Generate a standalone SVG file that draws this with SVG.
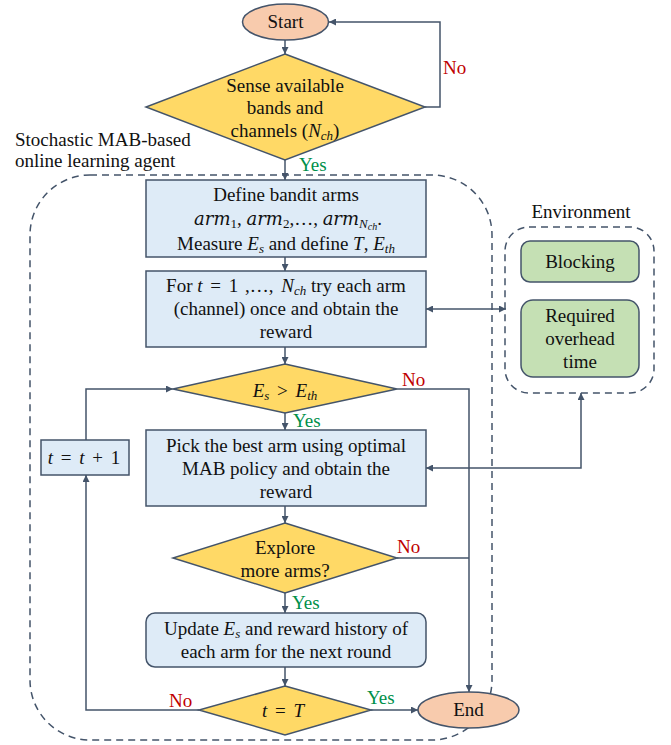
<svg xmlns="http://www.w3.org/2000/svg" width="671" height="745" viewBox="0 0 671 745" font-family="'Liberation Serif', 'Times New Roman', Times, serif">
<style>
text{font-family:'Liberation Serif','Times New Roman',Times,serif;font-size:19px;fill:#111;text-anchor:middle}
.m{font-style:italic}
.dm{font-family:'DejaVu Serif',serif;font-style:italic;font-size:18px}
.s{font-size:13px}
.no{fill:#C00000;text-anchor:start}
.yes{fill:#00904A;text-anchor:start}
.lbl{text-anchor:start}
.term{fill:#F8CBAD;stroke:#44546A;stroke-width:1.5}
.dec{fill:#FFD966;stroke:#44546A;stroke-width:1.5}
.proc{fill:#DEEBF7;stroke:#44546A;stroke-width:1.5}
.env{fill:#C5E0B4;stroke:#44546A;stroke-width:1.5}
.dash{fill:none;stroke:#44546A;stroke-width:1.5;stroke-dasharray:7 5}
.c{fill:none;stroke:#44546A;stroke-width:1.5}
</style>
<defs>
<marker id="ah" viewBox="0 0 10 10" refX="10" refY="5" markerWidth="7" markerHeight="7" markerUnits="userSpaceOnUse" orient="auto-start-reverse">
<path d="M0,0 L10,5 L0,10 z" fill="#44546A"/>
</marker>
</defs>

<rect class="dash" x="30" y="175" width="462" height="565" rx="60"/>
<text class="lbl" x="15" y="146">Stochastic MAB-based</text>
<text class="lbl" x="15" y="167">online learning agent</text>

<g id="connectors">
<path class="c" d="M285,40 V54" marker-end="url(#ah)"/>
<path class="c" d="M425,107 H440 V22 H329" marker-end="url(#ah)"/>
<path class="c" d="M285,160 V180" marker-end="url(#ah)"/>
<path class="c" d="M285,257 V271" marker-end="url(#ah)"/>
<path class="c" d="M426,309 H506" marker-start="url(#ah)" marker-end="url(#ah)"/>
<path class="c" d="M285,347 V364" marker-end="url(#ah)"/>
<path class="c" d="M285,413 V430" marker-end="url(#ah)"/>
<path class="c" d="M581,393 V468 H426" marker-start="url(#ah)" marker-end="url(#ah)"/>
<path class="c" d="M397,389 H469 V692" marker-end="url(#ah)"/>
<path class="c" d="M285,506 V523" marker-end="url(#ah)"/>
<path class="c" d="M397,558 H469"/>
<path class="c" d="M285,593 V613" marker-end="url(#ah)"/>
<path class="c" d="M285,667 V686" marker-end="url(#ah)"/>
<path class="c" d="M371,710 H418" marker-end="url(#ah)"/>
<path class="c" d="M199,710 H86 V475" marker-end="url(#ah)"/>
<path class="c" d="M86,440 V389 H173" marker-end="url(#ah)"/>
<text class="no" x="443" y="74">No</text>
<text class="yes" x="299" y="171">Yes</text>
<text class="no" x="402" y="386">No</text>
<text class="yes" x="293" y="427">Yes</text>
<text class="no" x="397" y="553">No</text>
<text class="yes" x="292" y="609">Yes</text>
<text class="no" x="169" y="707">No</text>
<text class="yes" x="367" y="704">Yes</text>
</g>

<g id="start">
<ellipse class="term" cx="285.5" cy="22" rx="43" ry="18"/>
<text x="285.5" y="28">Start</text>
</g>

<g id="sense">
<polygon class="dec" points="285,54 425,107 285,160 146,107"/>
<text x="285" y="92">Sense available</text>
<text x="285" y="114">bands and</text>
<text x="285" y="137">channels (<tspan class="m">N</tspan><tspan class="s m" dy="3">ch</tspan><tspan dy="-3">)</tspan></text>
</g>

<g id="define">
<rect class="proc" x="146" y="180" width="280" height="77"/>
<text x="286" y="201">Define bandit arms</text>
<text x="288" y="225"><tspan class="dm">arm</tspan><tspan class="s" dy="3">1</tspan><tspan dy="-3">, </tspan><tspan class="dm">arm</tspan><tspan class="s" dy="3">2</tspan><tspan dy="-3">,…, </tspan><tspan class="dm">arm</tspan><tspan class="s m" dy="3">N</tspan><tspan class="m" font-size="10" dy="2">ch</tspan><tspan dy="-5">.</tspan></text>
<text x="286" y="250">Measure <tspan class="m">E</tspan><tspan class="s m" dy="3">s</tspan><tspan dy="-3"> and define </tspan><tspan class="m">T</tspan>, <tspan class="m">E</tspan><tspan class="s m" dy="3">th</tspan></text>
</g>

<g id="try">
<rect class="proc" x="146" y="271" width="280" height="76"/>
<text x="286" y="292">For <tspan class="m">t</tspan><tspan dx="3"> = </tspan><tspan dx="3">1</tspan><tspan dx="2"> ,…, </tspan><tspan class="m" dx="3">N</tspan><tspan class="s m" dy="3">ch</tspan><tspan dy="-3"> try each arm</tspan></text>
<text x="286" y="315">(channel) once and obtain the</text>
<text x="286" y="338">reward</text>
</g>

<g id="environment">
<rect class="dash" x="505" y="227" width="149" height="166" rx="24"/>
<text x="581" y="218">Environment</text>
</g>

<g id="blocking">
<rect class="env" x="521" y="241" width="118" height="41" rx="9"/>
<text x="580" y="268">Blocking</text>
</g>

<g id="overhead">
<rect class="env" x="521" y="300" width="118" height="77" rx="12"/>
<text x="580" y="322">Required</text>
<text x="580" y="345">overhead</text>
<text x="580" y="368">time</text>
</g>

<g id="energy">
<polygon class="dec" points="285,364 397,389 285,413 173,389"/>
<text x="285" y="397"><tspan class="m">E</tspan><tspan class="s m" dy="3">s</tspan><tspan dy="-3" dx="3"> &gt; </tspan><tspan class="m" dx="3">E</tspan><tspan class="s m" dy="3">th</tspan></text>
</g>

<g id="increment">
<rect class="proc" x="41" y="440" width="88" height="35"/>
<text x="84" y="464"><tspan class="m">t</tspan><tspan dx="3"> = </tspan><tspan class="m" dx="3">t</tspan><tspan dx="3"> + </tspan><tspan dx="3">1</tspan></text>
</g>

<g id="pick">
<rect class="proc" x="146" y="430" width="280" height="76"/>
<text x="286" y="452">Pick the best arm using optimal</text>
<text x="286" y="475">MAB policy and obtain the</text>
<text x="286" y="498">reward</text>
</g>

<g id="explore">
<polygon class="dec" points="285,523 397,558 285,593 173,558"/>
<text x="285" y="554">Explore</text>
<text x="285" y="577">more arms?</text>
</g>

<g id="update">
<rect class="proc" x="146" y="613" width="280" height="54" rx="9"/>
<text x="286" y="635">Update <tspan class="m">E</tspan><tspan class="s m" dy="3">s</tspan><tspan dy="-3"> and reward history of</tspan></text>
<text x="286" y="658">each arm for the next round</text>
</g>

<g id="final">
<polygon class="dec" points="285,686 371,710 285,735 199,710"/>
<text x="283" y="717"><tspan class="m">t</tspan><tspan dx="3"> = </tspan><tspan class="m" dx="3">T</tspan></text>
</g>

<g id="end">
<ellipse class="term" cx="468.5" cy="710" rx="50.5" ry="18"/>
<text x="468.5" y="716">End</text>
</g>
</svg>
